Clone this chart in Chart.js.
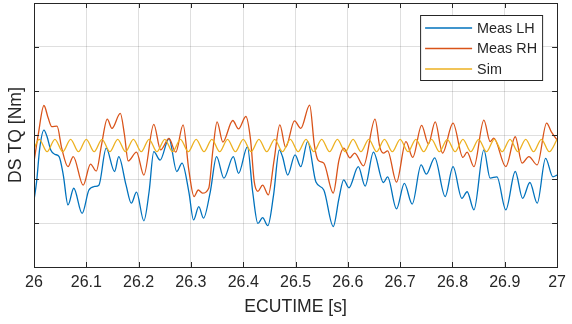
<!DOCTYPE html>
<html>
<head>
<meta charset="utf-8">
<script src="https://cdn.jsdelivr.net/npm/chart.js@4/dist/chart.umd.min.js"></script>
<style>
    body { margin: 0; background: #fff; }
    canvas { display: block; }
</style>
</head>
<body>
<canvas id="chart-tq" width="572" height="324"></canvas>
<script>
// x tick positions and labels
const xTicks = [26, 26.1, 26.2, 26.3, 26.4, 26.5, 26.6, 26.7, 26.8, 26.9, 27]
const xTickLabels = ['26', '26.1', '26.2', '26.3', '26.4', '26.5', '26.6', '26.7', '26.8', '26.9', '27']
// y grid (no labels shown in the original)
const yTicks = [0, 1, 2, 3, 4, 5, 6]

const seriesNames = ['Meas LH', 'Meas RH', 'Sim']

// Meas LH, read at the turning points
const lhTime = [26.000, 26.005, 26.011, 26.019, 26.025, 26.032, 26.040, 26.048, 26.056, 26.065,
    26.076, 26.092, 26.105, 26.116, 26.124, 26.138, 26.154, 26.162, 26.176, 26.186,
    26.196, 26.210, 26.220, 26.229, 26.241, 26.258, 26.273, 26.283, 26.296, 26.305,
    26.315, 26.324, 26.337, 26.349, 26.363, 26.381, 26.391, 26.408, 26.418, 26.428,
    26.437, 26.447, 26.458, 26.469, 26.475, 26.485, 26.499, 26.510, 26.523, 26.539,
    26.554, 26.572, 26.583, 26.592, 26.602, 26.620, 26.633, 26.649, 26.668, 26.676,
    26.693, 26.708, 26.723, 26.740, 26.750, 26.766, 26.786, 26.801, 26.818, 26.828,
    26.841, 26.860, 26.872, 26.885, 26.902, 26.920, 26.934, 26.948, 26.962, 26.978,
    26.992, 27.000]
const lhTq = [1.52, 1.94, 2.70, 3.11, 2.96, 2.66, 2.56, 2.51, 2.09, 1.41,
    1.79, 1.22, 1.75, 1.83, 1.86, 2.70, 2.17, 2.51, 1.86, 1.45,
    1.70, 1.05, 1.71, 2.62, 2.43, 2.92, 2.17, 2.36, 1.71, 1.07,
    1.37, 1.11, 1.71, 2.51, 2.02, 2.51, 2.13, 2.73, 1.71, 0.99,
    1.12, 0.94, 1.64, 2.66, 2.51, 2.09, 2.55, 2.28, 2.85, 1.93,
    1.75, 0.92, 1.56, 1.98, 1.80, 2.28, 1.84, 2.61, 1.92, 2.05,
    1.32, 1.90, 1.43, 2.32, 2.11, 2.48, 1.60, 2.28, 1.56, 1.71,
    1.30, 2.66, 2.02, 2.05, 1.30, 2.17, 1.56, 1.92, 1.45, 2.47,
    2.05, 2.09]

// Meas RH
const rhTime = [26.000, 26.008, 26.019, 26.027, 26.034, 26.044, 26.053, 26.065, 26.075, 26.094,
    26.108, 26.119, 26.129, 26.140, 26.149, 26.165, 26.173, 26.180, 26.196, 26.210,
    26.229, 26.242, 26.258, 26.271, 26.285, 26.296, 26.306, 26.314, 26.322, 26.334,
    26.342, 26.350, 26.361, 26.380, 26.391, 26.405, 26.414, 26.421, 26.428, 26.437,
    26.448, 26.459, 26.470, 26.481, 26.498, 26.510, 26.527, 26.536, 26.543, 26.554,
    26.572, 26.583, 26.592, 26.604, 26.613, 26.630, 26.652, 26.661, 26.668, 26.676,
    26.693, 26.711, 26.724, 26.741, 26.754, 26.767, 26.781, 26.801, 26.820, 26.828,
    26.841, 26.860, 26.872, 26.879, 26.902, 26.920, 26.933, 26.946, 26.962, 26.980,
    26.989, 27.000]
const rhTq = [2.39, 3.00, 3.67, 3.39, 3.19, 3.20, 2.70, 2.28, 2.51, 1.86,
    2.34, 2.18, 2.77, 3.36, 3.15, 3.49, 3.00, 2.41, 2.61, 2.09,
    3.24, 2.66, 2.92, 2.61, 3.23, 2.20, 1.60, 1.75, 1.68, 1.79,
    2.66, 3.30, 2.84, 3.33, 3.14, 3.42, 2.89, 1.94, 1.72, 1.86,
    1.64, 2.43, 3.23, 2.72, 3.32, 3.15, 3.68, 2.77, 2.43, 2.36,
    1.68, 2.43, 2.70, 2.48, 2.59, 2.30, 3.36, 2.73, 2.59, 2.64,
    1.93, 2.85, 2.49, 3.22, 2.80, 3.30, 2.59, 3.27, 2.49, 2.61,
    2.28, 3.34, 2.85, 2.93, 2.28, 2.96, 2.36, 2.51, 2.32, 3.27,
    3.07, 2.89]

// Sim
const simTime = [26.000, 26.010, 26.025, 26.040, 26.055, 26.070, 26.085, 26.100, 26.115, 26.130,
    26.145, 26.160, 26.175, 26.190, 26.205, 26.220, 26.235, 26.250, 26.265, 26.280,
    26.295, 26.310, 26.325, 26.340, 26.355, 26.370, 26.385, 26.400, 26.415, 26.430,
    26.445, 26.460, 26.475, 26.490, 26.505, 26.520, 26.535, 26.550, 26.565, 26.580,
    26.595, 26.610, 26.625, 26.640, 26.655, 26.670, 26.685, 26.700, 26.715, 26.730,
    26.745, 26.760, 26.775, 26.790, 26.805, 26.820, 26.835, 26.850, 26.865, 26.880,
    26.895, 26.910, 26.925, 26.940, 26.955, 26.970, 26.985, 27.000]
const simTq = [2.69, 2.90, 2.62, 2.90, 2.62, 2.90, 2.62, 2.90, 2.62, 2.90,
    2.62, 2.90, 2.62, 2.90, 2.62, 2.90, 2.62, 2.90, 2.62, 2.90,
    2.62, 2.90, 2.62, 2.90, 2.62, 2.90, 2.62, 2.90, 2.62, 2.90,
    2.62, 2.90, 2.62, 2.90, 2.62, 2.90, 2.62, 2.90, 2.62, 2.90,
    2.62, 2.90, 2.62, 2.90, 2.62, 2.90, 2.62, 2.90, 2.62, 2.90,
    2.62, 2.90, 2.62, 2.90, 2.62, 2.90, 2.62, 2.90, 2.62, 2.90,
    2.62, 2.90, 2.62, 2.90, 2.62, 2.90, 2.62, 2.90]

const colors = ['#0072BD', '#D95319', '#EDB120']

function toPoints(time, tq) {
    return time.map((t, i) => ({ x: t, y: tq[i] }))
}

Chart.defaults.font.family = '"Liberation Sans", Arial, sans-serif'
Chart.defaults.color = '#262626'

// MATLAB style box, inward ticks and framed legend
const matlabBox = {
    id: 'matlabBox',
    afterDraw(chart) {
        let ctx = chart.ctx
        let a = chart.chartArea
        let sx = chart.scales.x
        let sy = chart.scales.y
        ctx.save()
        ctx.strokeStyle = '#262626'
        ctx.lineWidth = 1
        ctx.beginPath()
        xTicks.forEach(v => {
            let px = Math.round(sx.getPixelForValue(v)) + 0.5
            ctx.moveTo(px, a.bottom); ctx.lineTo(px, a.bottom - 5)
            ctx.moveTo(px, a.top); ctx.lineTo(px, a.top + 5)
        })
        yTicks.forEach(v => {
            let py = Math.round(sy.getPixelForValue(v)) + 0.5
            ctx.moveTo(a.left, py); ctx.lineTo(a.left + 5, py)
            ctx.moveTo(a.right, py); ctx.lineTo(a.right - 5, py)
        })
        ctx.stroke()
        ctx.strokeRect(Math.round(a.left) + 0.5, Math.round(a.top) + 0.5,
            Math.round(a.right - a.left), Math.round(a.bottom - a.top))

        // legend
        let lx = a.right - 137, ly = a.top + 12, lw = 122, lh = 65
        ctx.fillStyle = '#ffffff'
        ctx.fillRect(lx, ly, lw, lh)
        ctx.strokeRect(lx + 0.5, ly + 0.5, lw, lh)
        ctx.font = '14.4px "Liberation Sans", Arial, sans-serif'
        ctx.textBaseline = 'middle'
        chart.data.datasets.forEach((ds, i) => {
            let y = ly + 13 + i * 20.5
            ctx.strokeStyle = ds.borderColor
            ctx.lineWidth = 1.3
            ctx.beginPath()
            ctx.moveTo(lx + 5, y)
            ctx.lineTo(lx + 52, y)
            ctx.stroke()
            ctx.fillStyle = '#262626'
            ctx.fillText(ds.label, lx + 57, y + 1)
        })
        ctx.restore()
    }
}

let canvas = document.getElementById('chart-tq')

new Chart(canvas, {
    type: 'line',
    data: {
        datasets: [
            {
                label: seriesNames[0],
                data: toPoints(lhTime, lhTq),
                borderColor: colors[0],
                order: 3
            },
            {
                label: seriesNames[1],
                data: toPoints(rhTime, rhTq),
                borderColor: colors[1],
                order: 2
            },
            {
                label: seriesNames[2],
                data: toPoints(simTime, simTq),
                borderColor: colors[2],
                order: 1
            }
        ]
    },
    options: {
        responsive: false,
        animation: false,
        events: [],
        layout: {
            padding: { top: 3, right: 11, left: 0, bottom: 0 }
        },
        elements: {
            line: {
                borderWidth: 1.3,
                cubicInterpolationMode: 'monotone',
                fill: false
            },
            point: { radius: 0 }
        },
        scales: {
            x: {
                type: 'linear',
                min: 26,
                max: 27,
                afterBuildTicks: s => { s.ticks = xTicks.map(v => ({ value: v })) },
                afterFit: s => { s.height = 57 },
                ticks: {
                    autoSkip: false,
                    maxRotation: 0,
                    padding: 6,
                    font: { size: 16 },
                    callback: (v, i) => xTickLabels[i]
                },
                border: { display: false },
                grid: {
                    color: 'rgba(38, 38, 38, 0.15)',
                    lineWidth: 1,
                    drawTicks: false
                },
                title: {
                    display: true,
                    text: 'ECUTIME [s]',
                    font: { size: 17.6 },
                    padding: { top: 0, bottom: 6 }
                }
            },
            y: {
                min: 0,
                max: 6,
                afterBuildTicks: s => { s.ticks = yTicks.map(v => ({ value: v })) },
                afterFit: s => { s.width = 34 },
                ticks: { display: false },
                border: { display: false },
                grid: {
                    color: 'rgba(38, 38, 38, 0.15)',
                    lineWidth: 1,
                    drawTicks: false
                },
                title: {
                    display: true,
                    text: 'DS TQ [Nm]',
                    font: { size: 17.6 },
                    padding: { top: 6, bottom: 0 }
                }
            }
        },
        plugins: {
            legend: { display: false },
            tooltip: { enabled: false }
        }
    },
    plugins: [matlabBox]
})
</script>
</body>
</html>
